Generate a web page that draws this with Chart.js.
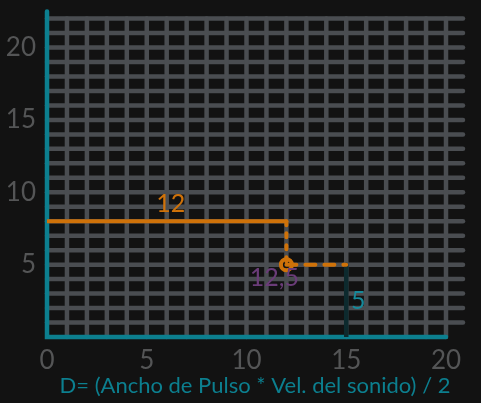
<!DOCTYPE html>
<html>
<head>
<meta charset="utf-8">
<script src="https://cdn.jsdelivr.net/npm/chart.js@4"></script>
<style>
  html, body { margin: 0; padding: 0; background: #121212; }
  #wrap { width: 481px; height: 403px; }
</style>
</head>
<body>
<div id="wrap"><canvas id="chart"></canvas></div>
<script>
// Data
var topX = [0, 12];
var topY = [8, 8];
var dropX = [12, 12];
var dropY = [8, 5];
var stepX = [12, 15];
var stepY = [5, 5];
var wallX = [15, 15];
var wallY = [5, 0];
var pointX = [12];
var pointY = [5];
var noteText = ["12", "12,5", "5"];
var noteX = [6.2, 11.4, 15.6];
var noteY = [9.2, 4.1, 2.5];
var xTicks = [0, 5, 10, 15, 20];
var yTicks = [5, 10, 15, 20];
var xTitle = "D= (Ancho de Pulso * Vel. del sonido) / 2";

// Colours
var teal = "#0c7f8f";
var orange = "#cf7209";
var purple = "#6a3c78";
var dark = "#0d2a2e";
var gridCol = "#4a4d51";
var tickCol = "#545556";
var noteCol = [orange, purple, "#17899a"];

function pts(xs, ys) {
    return xs.map(function (x, i) { return { x: x, y: ys[i] }; });
}

// axes, grid and notes drawn through the scales
var sketch = {
    id: "sketch",
    beforeDatasetsDraw: function (chart) {
        var c = chart.ctx, xs = chart.scales.x, ys = chart.scales.y, a = chart.chartArea;
        c.save();
        c.lineCap = "round";
        c.strokeStyle = gridCol;
        c.lineWidth = 4.5;
        for (var v = 1; v <= 22; v++) {
            var py = ys.getPixelForValue(v);
            c.beginPath(); c.moveTo(a.left, py); c.lineTo(a.right, py); c.stroke();
        }
        for (var u = 1; u <= 20; u++) {
            var px = xs.getPixelForValue(u);
            c.beginPath(); c.moveTo(px, a.top); c.lineTo(px, ys.getPixelForValue(0)); c.stroke();
        }
        c.strokeStyle = teal;
        c.lineWidth = 4.5;
        c.beginPath();
        c.moveTo(xs.getPixelForValue(0), a.top - 7);
        c.lineTo(xs.getPixelForValue(0), ys.getPixelForValue(0));
        c.lineTo(xs.getPixelForValue(20), ys.getPixelForValue(0));
        c.stroke();
        c.restore();
    },
    afterDatasetsDraw: function (chart) {
        var c = chart.ctx, xs = chart.scales.x, ys = chart.scales.y;
        c.save();
        c.font = "25px Lato";
        c.textAlign = "center";
        c.textBaseline = "middle";
        noteText.forEach(function (t, i) {
            c.fillStyle = noteCol[i];
            c.fillText(t, xs.getPixelForValue(noteX[i]), ys.getPixelForValue(noteY[i]));
        });
        c.restore();
    }
};

var ctx = document.getElementById("chart").getContext("2d");
var myChart = new Chart(ctx, {
    type: "scatter",
    data: {
        datasets: [{
            data: pts(topX, topY),
            showLine: true, borderColor: orange, borderWidth: 4, pointRadius: 0, borderCapStyle: "round"
        }, {
            data: pts(dropX, dropY),
            showLine: true, borderColor: orange, borderWidth: 4, pointRadius: 0, borderDash: [4, 8], borderCapStyle: "round"
        }, {
            data: pts(stepX, stepY),
            showLine: true, borderColor: orange, borderWidth: 4, pointRadius: 0, borderDash: [10, 9], borderCapStyle: "round"
        }, {
            data: pts(wallX, wallY),
            showLine: true, borderColor: dark, borderWidth: 4.5, pointRadius: 0, borderCapStyle: "round"
        }, {
            data: pts(pointX, pointY),
            showLine: false, borderColor: orange, borderWidth: 4, backgroundColor: "#121212", pointRadius: 5.5
        }]
    },
    options: {
        responsive: true,
        maintainAspectRatio: false,
        animation: false,
        layout: { padding: { left: 0, right: 18, top: 15, bottom: 0 } },
        plugins: { legend: { display: false }, tooltip: { enabled: false } },
        scales: {
            x: {
                type: "linear", min: 0, max: 20 * 416 / 399,
                grid: { display: false }, border: { display: false },
                afterBuildTicks: function (s) { s.ticks = xTicks.map(function (v) { return { value: v }; }); },
                afterFit: function (s) { s.height = 66; },
                ticks: { color: tickCol, font: { family: "Lato", size: 26 }, padding: 0, maxRotation: 0 },
                title: { display: true, text: xTitle, color: teal, font: { family: "Lato", size: 22 }, padding: { top: 1 } }
            },
            y: {
                type: "linear", min: 0, max: 22,
                grid: { display: false }, border: { display: false },
                afterBuildTicks: function (s) { s.ticks = yTicks.map(function (v) { return { value: v }; }); },
                afterFit: function (s) { s.width = 47; },
                ticks: { color: tickCol, font: { family: "Lato", size: 26 }, padding: 3 }
            }
        }
    },
    plugins: [sketch]
});
</script>
</body>
</html>
